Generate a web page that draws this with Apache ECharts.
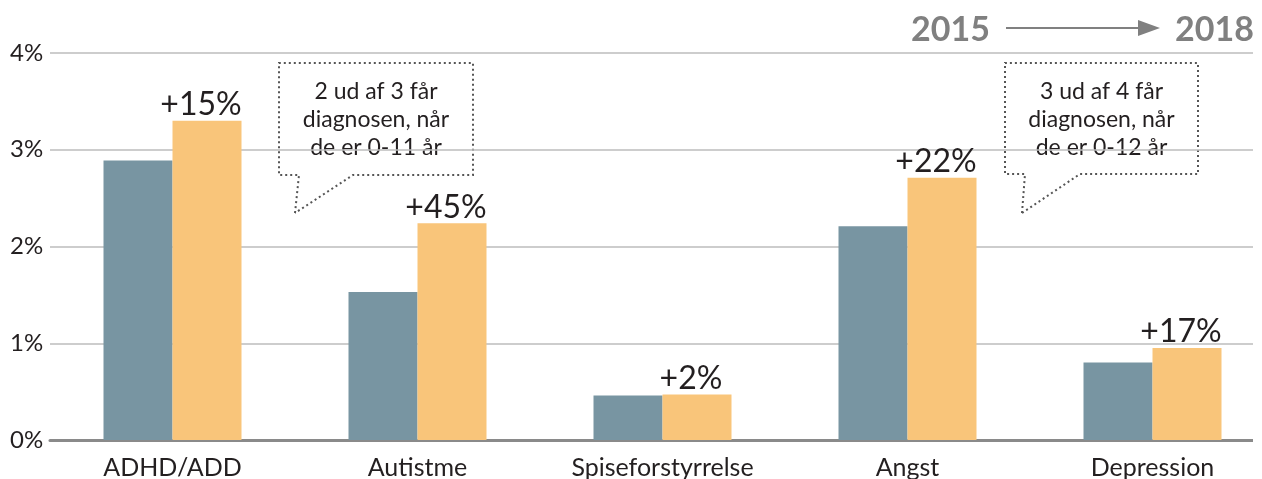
<!DOCTYPE html>
<html>
<head>
<meta charset="utf-8">
<script src="https://cdn.jsdelivr.net/npm/echarts@6/dist/echarts.min.js"></script>
<style>
  html, body { margin: 0; padding: 0; background: #fff; }
  #chart { width: 1262px; height: 479px; }
</style>
</head>
<body>
<div id="chart"></div>
<script>
  // data (share of children, %)
  var categories = ['ADHD/ADD', 'Autistme', 'Spiseforstyrrelse', 'Angst', 'Depression']
  var values2015 = [2.89, 1.53, 0.46, 2.21, 0.80]
  var values2018 = [3.30, 2.24, 0.47, 2.71, 0.95]
  var growthLabels = ['+15%', '+45%', '+2%', '+22%', '+17%']
  var yTicks = [0, 1, 2, 3, 4]

  var FONT = 'Lato'
  var chart = echarts.init(document.getElementById('chart'))

  // dotted speech bubble with a tail
  // tail = [left foot offset, right foot offset, tip x, tip y]
  function bubble(x, y, w, h, tail, lines) {
    var tip = [tail[2], tail[3]]
    return {
      type: 'group',
      children: [
        {
          type: 'polyline',
          shape: {
            points: [
              tip, [x + tail[0], y + h], [x, y + h], [x, y], [x + w, y], [x + w, y + h],
              [x + tail[1], y + h], tip
            ]
          },
          style: { stroke: '#555', lineWidth: 2, lineDash: [2, 3], fill: null }
        },
        {
          type: 'text',
          x: x + w / 2,
          y: y + h / 2 + 1,
          style: {
            text: lines.join('\n'),
            font: '23px ' + FONT,
            fill: '#231f20',
            align: 'center',
            verticalAlign: 'middle',
            lineHeight: 28
          }
        }
      ]
    }
  }

  chart.setOption({
    animation: false,
    color: ['#7895a2', '#f9c57a'],
    textStyle: { fontFamily: FONT },
    grid: {
      left: 50,
      right: -13,
      top: 53,
      bottom: 39,
      outerBoundsMode: 'none'
    },
    xAxis: {
      type: 'category',
      data: categories,
      axisTick: { show: false },
      axisLine: { lineStyle: { color: '#8a8a8a', width: 3 } },
      axisLabel: { fontSize: 25, color: '#231f20', margin: 15, fontFamily: FONT }
    },
    yAxis: {
      type: 'value',
      min: yTicks[0],
      max: yTicks[yTicks.length - 1],
      interval: 1,
      axisLine: { show: false },
      axisTick: { show: false },
      splitLine: { lineStyle: { color: '#bdbdbd', width: 1.5 } },
      axisLabel: {
        formatter: '{value}%',
        fontSize: 24,
        color: '#231f20',
        align: 'left',
        margin: 40,
        verticalAlign: 'middle',
        padding: [0, 0, 10, 0],
        fontFamily: FONT
      }
    },
    series: [
      {
        name: '2015',
        type: 'bar',
        barWidth: 69,
        barGap: '0%',
        data: values2015
      },
      {
        name: '2018',
        type: 'bar',
        barWidth: 69,
        barGap: '0%',
        data: values2018,
        label: {
          show: true,
          position: 'top',
          distance: 0,
          offset: [-6, 0],
          fontSize: 32,
          color: '#231f20',
          fontFamily: FONT,
          formatter: function (p) {
            return growthLabels[p.dataIndex]
          }
        }
      }
    ],
    graphic: [
      // trim the grid lines at the right edge like the original
      {
        type: 'rect',
        shape: { x: 1253, y: 40, width: 12, height: 405 },
        style: { fill: '#fff' },
        z: 100
      },
      // 2015 -> 2018 header
      {
        type: 'text',
        x: 990,
        y: 30,
        style: {
          text: '2015', font: 'bold 34px ' + FONT, fill: '#808080',
          align: 'right', verticalAlign: 'middle'
        }
      },
      {
        type: 'line',
        shape: { x1: 1006, y1: 28, x2: 1142, y2: 28 },
        style: { stroke: '#808080', lineWidth: 2 }
      },
      {
        type: 'polygon',
        shape: { points: [[1138, 20], [1160, 28], [1138, 36]] },
        style: { fill: '#808080' }
      },
      {
        type: 'text',
        x: 1254,
        y: 30,
        style: {
          text: '2018', font: 'bold 34px ' + FONT, fill: '#808080',
          align: 'right', verticalAlign: 'middle'
        }
      },
      bubble(279, 63, 194, 112, [20, 74, 295, 213],
        ['2 ud af 3 får', 'diagnosen, når', 'de er 0-11 år']),
      bubble(1005, 63, 193, 111, [20, 75, 1022, 213],
        ['3 ud af 4 får', 'diagnosen, når', 'de er 0-12 år'])
    ]
  })
</script>
</body>
</html>
